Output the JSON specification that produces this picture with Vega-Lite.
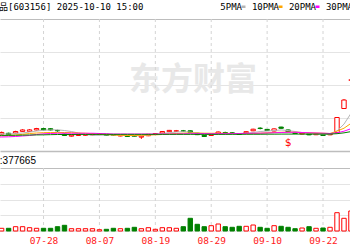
{
  "$schema": "https://vega.github.io/schema/vega-lite/v6.json",
  "width": 350,
  "height": 212,
  "autosize": {"type": "none"},
  "padding": {"left": 0, "top": 19, "right": 0, "bottom": 19},
  "background": "white",
  "config": {"view": {"stroke": null}},
  "datasets": {
    "k": [
      {"i":1,"d":"07-17","o":21.95,"h":22.05,"l":21.85,"c":22.0,"vol":60000,"dir":"up","5PMA":22.06,"10PMA":21.82,"20PMA":21.70,"30PMA":21.88},
      {"i":2,"d":"07-18","o":22.05,"h":22.35,"l":21.98,"c":22.25,"vol":54000,"dir":"up","5PMA":22.06,"10PMA":21.84,"20PMA":21.70,"30PMA":21.89},
      {"i":3,"d":"07-21","o":22.15,"h":22.22,"l":21.9,"c":21.97,"vol":54000,"dir":"down","5PMA":22.06,"10PMA":21.88,"20PMA":21.72,"30PMA":21.90},
      {"i":4,"d":"07-22","o":22.18,"h":22.45,"l":22.12,"c":22.36,"vol":86000,"dir":"up","5PMA":22.12,"10PMA":21.94,"20PMA":21.76,"30PMA":21.91},
      {"i":5,"d":"07-23","o":22.38,"h":22.64,"l":22.33,"c":22.55,"vol":86000,"dir":"up","5PMA":22.18,"10PMA":22.02,"20PMA":21.82,"30PMA":21.92},
      {"i":6,"d":"07-24","o":22.38,"h":22.66,"l":22.3,"c":22.56,"vol":66000,"dir":"up","5PMA":22.30,"10PMA":22.12,"20PMA":21.88,"30PMA":21.94},
      {"i":7,"d":"07-25","o":22.55,"h":22.8,"l":22.5,"c":22.72,"vol":54000,"dir":"up","5PMA":22.42,"10PMA":22.18,"20PMA":22.0,"30PMA":21.95},
      {"i":8,"d":"07-28","o":22.72,"h":22.8,"l":22.5,"c":22.56,"vol":54000,"dir":"down","5PMA":22.51,"10PMA":22.22,"20PMA":22.08,"30PMA":21.96},
      {"i":9,"d":"07-29","o":22.7,"h":22.76,"l":22.48,"c":22.55,"vol":54000,"dir":"down","5PMA":22.55,"10PMA":22.24,"20PMA":22.12,"30PMA":21.98},
      {"i":10,"d":"07-30","o":22.48,"h":22.58,"l":22.34,"c":22.45,"vol":86000,"dir":"down","5PMA":22.57,"10PMA":22.24,"20PMA":22.15,"30PMA":22.0},
      {"i":11,"d":"07-31","o":22.05,"h":22.1,"l":21.82,"c":21.88,"vol":114000,"dir":"down","5PMA":22.48,"10PMA":22.24,"20PMA":22.15,"30PMA":22.0},
      {"i":12,"d":"08-01","o":21.8,"h":22.0,"l":21.75,"c":21.93,"vol":46000,"dir":"up","5PMA":22.36,"10PMA":22.22,"20PMA":22.15,"30PMA":22.0},
      {"i":13,"d":"08-04","o":21.88,"h":22.06,"l":21.83,"c":22.0,"vol":46000,"dir":"up","5PMA":22.18,"10PMA":22.18,"20PMA":22.15,"30PMA":22.01},
      {"i":14,"d":"08-05","o":21.9,"h":22.05,"l":21.85,"c":22.0,"vol":46000,"dir":"up","5PMA":22.0,"10PMA":22.15,"20PMA":22.15,"30PMA":22.01},
      {"i":15,"d":"08-06","o":21.95,"h":22.12,"l":21.9,"c":22.06,"vol":46000,"dir":"up","5PMA":21.90,"10PMA":22.10,"20PMA":22.15,"30PMA":22.01},
      {"i":16,"d":"08-07","o":22.0,"h":22.18,"l":21.96,"c":22.12,"vol":26000,"dir":"up","5PMA":21.90,"10PMA":22.06,"20PMA":22.12,"30PMA":22.02},
      {"i":17,"d":"08-08","o":22.02,"h":22.06,"l":21.84,"c":21.88,"vol":34000,"dir":"down","5PMA":21.94,"10PMA":22.0,"20PMA":22.10,"30PMA":22.02},
      {"i":18,"d":"08-11","o":22.0,"h":22.06,"l":21.83,"c":21.9,"vol":54000,"dir":"down","5PMA":21.94,"10PMA":21.94,"20PMA":22.06,"30PMA":22.02},
      {"i":19,"d":"08-12","o":21.82,"h":21.98,"l":21.78,"c":21.92,"vol":46000,"dir":"up","5PMA":21.90,"10PMA":21.90,"20PMA":22.06,"30PMA":22.02},
      {"i":20,"d":"08-13","o":21.88,"h":21.92,"l":21.72,"c":21.76,"vol":54000,"dir":"down","5PMA":21.88,"10PMA":21.88,"20PMA":22.06,"30PMA":22.02},
      {"i":21,"d":"08-14","o":21.88,"h":21.92,"l":21.72,"c":21.78,"vol":74000,"dir":"down","5PMA":21.85,"10PMA":21.88,"20PMA":22.06,"30PMA":22.02},
      {"i":22,"d":"08-15","o":21.68,"h":21.84,"l":21.46,"c":21.79,"vol":46000,"dir":"up","5PMA":21.85,"10PMA":21.90,"20PMA":22.06,"30PMA":22.02},
      {"i":23,"d":"08-18","o":21.85,"h":22.06,"l":21.8,"c":22.02,"vol":66000,"dir":"up","5PMA":21.94,"10PMA":21.94,"20PMA":22.06,"30PMA":22.02},
      {"i":24,"d":"08-19","o":22.0,"h":22.18,"l":21.96,"c":22.12,"vol":34000,"dir":"up","5PMA":22.02,"10PMA":21.96,"20PMA":22.06,"30PMA":22.02},
      {"i":25,"d":"08-20","o":22.18,"h":22.4,"l":22.12,"c":22.36,"vol":66000,"dir":"up","5PMA":22.12,"10PMA":22.0,"20PMA":22.06,"30PMA":22.02},
      {"i":26,"d":"08-21","o":22.34,"h":22.55,"l":22.3,"c":22.5,"vol":66000,"dir":"up","5PMA":22.22,"10PMA":22.06,"20PMA":22.06,"30PMA":22.02},
      {"i":27,"d":"08-22","o":22.4,"h":22.55,"l":22.3,"c":22.45,"vol":54000,"dir":"up","5PMA":22.30,"10PMA":22.12,"20PMA":22.06,"30PMA":22.02},
      {"i":28,"d":"08-25","o":22.44,"h":22.55,"l":22.3,"c":22.4,"vol":86000,"dir":"down","5PMA":22.34,"10PMA":22.16,"20PMA":22.08,"30PMA":22.02},
      {"i":29,"d":"08-26","o":22.45,"h":22.5,"l":22.18,"c":22.25,"vol":254000,"dir":"down","5PMA":22.30,"10PMA":22.18,"20PMA":22.10,"30PMA":22.02},
      {"i":30,"d":"08-27","o":22.15,"h":22.2,"l":21.93,"c":21.98,"vol":134000,"dir":"down","5PMA":22.18,"10PMA":22.18,"20PMA":22.11,"30PMA":22.02},
      {"i":31,"d":"08-28","o":21.9,"h":21.95,"l":21.7,"c":21.76,"vol":86000,"dir":"down","5PMA":22.06,"10PMA":22.16,"20PMA":22.11,"30PMA":22.02},
      {"i":32,"d":"08-29","o":21.88,"h":22.05,"l":21.82,"c":22.0,"vol":106000,"dir":"up","5PMA":22.0,"10PMA":22.15,"20PMA":22.10,"30PMA":22.02},
      {"i":33,"d":"09-01","o":22.14,"h":22.36,"l":22.1,"c":22.3,"vol":140000,"dir":"up","5PMA":22.02,"10PMA":22.15,"20PMA":22.10,"30PMA":22.02},
      {"i":34,"d":"09-02","o":22.24,"h":22.34,"l":22.1,"c":22.2,"vol":86000,"dir":"down","5PMA":22.06,"10PMA":22.15,"20PMA":22.11,"30PMA":22.02},
      {"i":35,"d":"09-03","o":22.2,"h":22.3,"l":22.06,"c":22.16,"vol":74000,"dir":"down","5PMA":22.10,"10PMA":22.13,"20PMA":22.11,"30PMA":22.02},
      {"i":36,"d":"09-04","o":22.12,"h":22.16,"l":21.96,"c":22.0,"vol":94000,"dir":"down","5PMA":22.12,"10PMA":22.12,"20PMA":22.12,"30PMA":22.02},
      {"i":37,"d":"09-05","o":22.2,"h":22.4,"l":22.16,"c":22.34,"vol":94000,"dir":"up","5PMA":22.15,"10PMA":22.10,"20PMA":22.13,"30PMA":22.03},
      {"i":38,"d":"09-08","o":22.45,"h":22.7,"l":22.4,"c":22.64,"vol":120000,"dir":"up","5PMA":22.24,"10PMA":22.12,"20PMA":22.15,"30PMA":22.03},
      {"i":39,"d":"09-09","o":22.77,"h":22.88,"l":22.62,"c":22.73,"vol":74000,"dir":"down","5PMA":22.36,"10PMA":22.16,"20PMA":22.16,"30PMA":22.03},
      {"i":40,"d":"09-10","o":22.62,"h":22.66,"l":22.44,"c":22.48,"vol":54000,"dir":"down","5PMA":22.42,"10PMA":22.21,"20PMA":22.18,"30PMA":22.04},
      {"i":41,"d":"09-11","o":22.42,"h":22.74,"l":22.38,"c":22.68,"vol":106000,"dir":"up","5PMA":22.48,"10PMA":22.24,"20PMA":22.21,"30PMA":22.04},
      {"i":42,"d":"09-12","o":22.9,"h":22.94,"l":22.7,"c":22.75,"vol":94000,"dir":"down","5PMA":22.55,"10PMA":22.27,"20PMA":22.24,"30PMA":22.05},
      {"i":43,"d":"09-15","o":22.55,"h":22.6,"l":22.3,"c":22.35,"vol":74000,"dir":"down","5PMA":22.48,"10PMA":22.28,"20PMA":22.27,"30PMA":22.05},
      {"i":44,"d":"09-16","o":22.25,"h":22.3,"l":22.08,"c":22.12,"vol":46000,"dir":"down","5PMA":22.36,"10PMA":22.27,"20PMA":22.27,"30PMA":22.05},
      {"i":45,"d":"09-17","o":22.06,"h":22.22,"l":22.02,"c":22.18,"vol":60000,"dir":"up","5PMA":22.24,"10PMA":22.24,"20PMA":22.24,"30PMA":22.05},
      {"i":46,"d":"09-18","o":22.08,"h":22.12,"l":21.92,"c":21.96,"vol":86000,"dir":"down","5PMA":22.12,"10PMA":22.21,"20PMA":22.21,"30PMA":22.05},
      {"i":47,"d":"09-19","o":21.97,"h":22.12,"l":21.93,"c":22.08,"vol":54000,"dir":"up","5PMA":22.06,"10PMA":22.18,"20PMA":22.18,"30PMA":22.05},
      {"i":48,"d":"09-22","o":22.0,"h":22.04,"l":21.84,"c":21.88,"vol":60000,"dir":"down","5PMA":22.02,"10PMA":22.15,"20PMA":22.16,"30PMA":22.05},
      {"i":49,"d":"09-23","o":21.96,"h":22.12,"l":21.92,"c":22.08,"vol":74000,"dir":"up","5PMA":22.04,"10PMA":22.12,"20PMA":22.12,"30PMA":22.05},
      {"i":50,"d":"09-24","o":22.24,"h":24.12,"l":22.18,"c":24.06,"vol":366000,"dir":"up","5PMA":22.43,"10PMA":22.41,"20PMA":22.2,"30PMA":22.1},
      {"i":51,"d":"09-25","o":25.15,"h":26.3,"l":25.09,"c":26.18,"vol":254000,"dir":"up","5PMA":23.26,"10PMA":22.76,"20PMA":22.4,"30PMA":22.2},
      {"i":52,"d":"09-26","o":28.6,"h":28.6,"l":28.6,"c":28.6,"vol":400000,"dir":"up","5PMA":24.56,"10PMA":23.35,"20PMA":22.7,"30PMA":22.35}
    ],
    "ticks": [{"i":8},{"i":16},{"i":24},{"i":32},{"i":40},{"i":48}]
  },
  "data": {"name": "k"},
  "layer": [
    {
      "layer": [
        {
          "data": {"values": [{"t": "东方财富"}]},
          "mark": {"type": "text", "font": "Noto Sans CJK SC", "fontSize": 32, "fontWeight": "bold", "color": "#e8e8e8", "align": "center", "baseline": "middle"},
          "encoding": {
            "x": {"datum": 29.4, "type": "quantitative"},
            "y": {"datum": 28.6, "type": "quantitative"},
            "text": {"field": "t"}
          }
        },
        {
          "data": {"values": [{"t": "养元饮品[603156] 2025-10-10 15:00"}]},
          "mark": {"type": "text", "font": "DejaVu Sans Mono, Noto Sans CJK SC", "fontSize": 9, "color": "#000000", "align": "left", "baseline": "middle"},
          "encoding": {
            "x": {"datum": -2.24, "type": "quantitative"},
            "y": {"datum": 37.45, "type": "quantitative"},
            "text": {"field": "t"}
          }
        },
        {
          "data": {"name": "ticks"},
          "mark": {"type": "rule", "color": "#d4d4d4", "strokeDash": [3, 3], "strokeWidth": 1},
          "encoding": {
            "x": {"field": "i", "type": "quantitative"},
            "y": {"datum": 36},
            "y2": {"datum": 20}
          }
        },
        {
          "mark": {"type": "rule", "strokeWidth": 1},
          "encoding": {
            "x": {
              "field": "i", "type": "quantitative",
              "scale": {"domain": [1.77, 51.86], "nice": false, "zero": false, "padding": 0},
              "axis": {"title": null, "values": [0,8,16,24,32,40,48],
                "labelExpr": "['07-16','07-28','08-07','08-19','08-29','09-10','09-22'][datum.value/8]",
                "grid": false, "ticks": false, "domain": false, "labelColor": "#ff2020",
                "labelFont": "DejaVu Sans Mono", "labelFontSize": 9.5, "labelPadding": 4,
                "labelFlush": false, "labelOverlap": false}
            },
            "y": {"field": "l", "type": "quantitative",
              "scale": {"domain": [20, 36], "range": [132, 0], "nice": false, "zero": false},
              "axis": {"title": null, "values": [20,22,24,26,28,30,32,34,36], "labels": false, "ticks": false, "domain": false, "grid": true,
                "gridColor": {"condition": {"test": "datum.value == 36 || datum.value == 20", "value": "#bdbdbd"}, "value": "#e4e4e4"},
                "gridWidth": {"condition": {"test": "datum.value == 20", "value": 1.6}, "value": 1}}},
            "y2": {"field": "h"},
            "stroke": {"field": "dir", "type": "nominal", "scale": {"domain": ["up", "down"], "range": ["#ff0000", "#008000"]}, "legend": null}
          }
        },
        {
          "mark": {"type": "bar", "width": 4.4, "strokeWidth": 1},
          "encoding": {
            "x": {"field": "i", "type": "quantitative"},
            "y": {"field": "o", "type": "quantitative"},
            "y2": {"field": "c"},
            "stroke": {"field": "dir", "type": "nominal", "legend": null},
            "fill": {"field": "dir", "type": "nominal", "scale": {"domain": ["up", "down"], "range": ["#ffffff", "#008000"]}, "legend": null}
          }
        },
        {
          "transform": [{"fold": ["5PMA", "10PMA", "20PMA", "30PMA"], "as": ["ma", "v"]}],
          "mark": {"type": "line", "strokeWidth": 1},
          "encoding": {
            "x": {"field": "i", "type": "quantitative"},
            "y": {"field": "v", "type": "quantitative"},
            "color": {"field": "ma", "type": "nominal",
              "scale": {"domain": ["5PMA", "10PMA", "20PMA", "30PMA"], "range": ["#b4b4b4", "#ffa500", "#ff00ff", "#008000"]},
              "legend": {"orient": "none", "legendX": 239, "legendY": -17, "direction": "horizontal", "title": null,
                "symbolType": "stroke", "symbolSize": 16, "symbolStrokeWidth": 2.5,
                "labelAlign": "right", "labelOffset": -6, "columnPadding": 0, "padding": 0,
                "labelFont": "DejaVu Sans Mono", "labelFontSize": 9, "labelColor": "#000000"}}
          }
        },
        {
          "data": {"values": [{"i": 43, "p": 20.97, "t": "$"}]},
          "mark": {"type": "text", "font": "DejaVu Sans Mono", "fontSize": 11, "color": "#ff0000", "align": "center", "baseline": "middle"},
          "encoding": {
            "x": {"field": "i", "type": "quantitative"},
            "y": {"field": "p", "type": "quantitative"},
            "text": {"field": "t"}
          }
        }
      ]
    },
    {
      "layer": [
        {
          "data": {"name": "ticks"},
          "mark": {"type": "rule", "color": "#d4d4d4", "strokeDash": [3, 3], "strokeWidth": 1},
          "encoding": {
            "x": {"field": "i", "type": "quantitative"},
            "y": {"datum": 1260000},
            "y2": {"datum": 0}
          }
        },
        {
          "mark": {"type": "bar", "width": 4.4, "strokeWidth": 1},
          "encoding": {
            "x": {"field": "i", "type": "quantitative"},
            "y": {"field": "vol", "type": "quantitative",
              "scale": {"domain": [0, 1260000], "range": [212, 149], "nice": false},
              "axis": {"title": null, "values": [0, 315000, 630000, 945000, 1260000], "labels": false, "ticks": false, "domain": false, "grid": true,
                "gridColor": {"condition": {"test": "datum.value == 1260000", "value": "#bdbdbd"}, "value": "#e4e4e4"}}},
            "stroke": {"field": "dir", "type": "nominal", "legend": null},
            "fill": {"field": "dir", "type": "nominal", "legend": null}
          }
        },
        {
          "data": {"values": [{"t": "成交量:377665"}]},
          "mark": {"type": "text", "font": "Liberation Sans, Noto Sans CJK SC", "fontSize": 10, "color": "#000000", "align": "right", "baseline": "middle"},
          "encoding": {
            "x": {"datum": 6.92, "type": "quantitative"},
            "y": {"datum": 1400000, "type": "quantitative"},
            "text": {"field": "t"}
          }
        }
      ]
    }
  ],
  "resolve": {"scale": {"y": "independent"}, "axis": {"y": "independent"}}
}
